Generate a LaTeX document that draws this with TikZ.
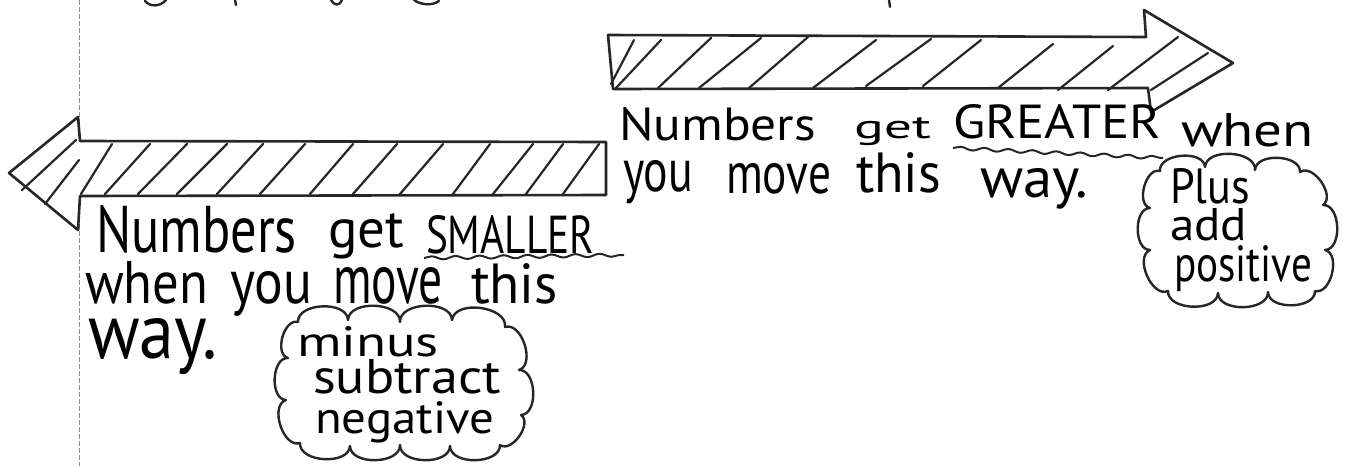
\documentclass[tikz,border=0pt]{standalone}
\usepackage{fontspec}
\setmainfont{PT Sans}
\usetikzlibrary{decorations.pathmorphing}
\tikzset{
 ink/.style={draw=black!85, line width=2.6pt, line join=round, line cap=round},
 hatch/.style={draw=black!85, line width=2.2pt, line cap=round},
 word/.style={anchor=base west, inner sep=0pt, outer sep=0pt, text=black, font=\fontsize{46}{50}\selectfont},
 puff/.style={draw=black!85, line width=2.4pt, line join=round},
 wavy/.style={draw=black!85, line width=2pt, decorate, decoration={snake, amplitude=1.6pt, segment length=24pt}},
 margin/.style={draw=black!45, line width=0.8pt, dash pattern=on 5pt off 2pt},
 frag/.style={draw=black!85, line width=2.4pt, line cap=round}
}
\newcommand{\hw}[3]{\resizebox{#1pt}{#2pt}{#3}}
\begin{document}
\begin{tikzpicture}[x=1pt,y=-1pt]
\useasboundingbox (0,0) rectangle (1351,466);
\fill[white] (0,0) rectangle (1351,466);
\draw[margin] (79,0) -- (79,466);

% fragments of writing cut at the top edge
\draw[frag] (145,1) .. controls (150,7) and (160,7) .. (166,0);
\draw[frag] (235,0) -- (236,5);
\draw[frag] (331,0) .. controls (334,6) and (340,6) .. (342,0);
\draw[frag] (414,0) .. controls (421,5) and (432,6) .. (439,1);
\draw[frag] (889,0) -- (890,7);

% lower-left arrow
\draw[ink, fill=white] (606,142) -- (80,141) -- (78,117) -- (9,173) -- (78,230) -- (80,196) -- (606,195) -- cycle;
\foreach \a/\b in {81/112, 105/150, 138/187, 177/227, 217/263, 260/305, 310/353, 353/397, 400/443, 453/490, 493/533, 526/563, 563/599}
  \draw[hatch] (\a,194) -- (\b,144);
\draw[hatch] (22,190) -- (76,140);
\draw[hatch] (45,204) -- (79,160);

% upper-right arrow
\draw[ink, fill=white] (608,35) -- (1146,37) -- (1144,10) -- (1233,63) -- (1151,112) -- (1148,88) -- (613,89) -- cycle;
\foreach \a/\p/\b/\q in {611/84/634/40, 616/88/661/40, 658/88/711/38, 699/88/761/38, 749/88/808/37, 813/88/876/40, 866/86/931/39, 923/86/981/40, 998/88/1053/44, 1058/90/1113/46, 1108/90/1178/37, 1151/90/1208/53}
  \draw[hatch] (\a,\p) -- (\b,\q);

% clouds (cusps listed clockwise, bumps bulge outwards)
\draw[puff] (298,322) \foreach \x/\y in {348/320, 400/322, 452/320, 505/327, 519/370, 521/415, 500/445, 450/446, 400/445, 350/446, 300/443, 286/400, 288/358, 298/322} { to[bend left=90] (\x,\y) } -- cycle;
\draw[puff] (1160,171) \foreach \x/\y in {1205/167, 1255/170, 1300/172, 1323/205, 1325/250, 1315/291, 1268/292, 1218/293, 1168/291, 1150/250, 1150/208, 1160/171} { to[bend left=90] (\x,\y) } -- cycle;

% upper text
\node[word] (g1) at (619,140) {\hw{197}{33}{Numbers}};
\node[word] (g2) at (854,138) {\hw{77}{21}{get}};
\node[word] (g3) at (953,138) {\hw{208}{34}{GREATER}};
\node[word] (g4) at (1181,146) {\hw{133}{33}{when}};
\node[word] (g5) at (623,191) {\hw{70}{31}{you}};
\node[word] (g6) at (726,193) {\hw{105}{30}{move}};
\node[word] (g7) at (856,192) {\hw{85}{40}{this}};
\node[word] (g8) at (980,197) {\hw{108}{29}{way.}};

% lower text
\node[word] (s1) at (96,252) {\hw{201}{47}{Numbers}};
\node[word] (s2) at (328,247) {\hw{76}{34}{get}};
\node[word] (s3) at (426,253) {\hw{168}{38}{SMALLER}};
\node[word] (s4) at (85,303) {\hw{123}{42}{when}};
\node[word] (s5) at (230,303) {\hw{82}{32}{you}};
\node[word] (s6) at (333,303) {\hw{110}{36}{move}};
\node[word] (s7) at (471,303) {\hw{87}{40}{this}};
\node[word] (s8) at (88,358) {\hw{129}{40}{way.}};

% cloud texts
\node[word] (m1) at (297,356) {\hw{142}{30}{minus}};
\node[word] (m2) at (313,393) {\hw{188}{34}{subtract}};
\node[word] (m3) at (315,433) {\hw{179}{32}{negative}};
\node[word] (p1) at (1170,203) {\hw{80}{35}{Plus}};
\node[word] (p2) at (1170,240) {\hw{77}{32}{add}};
\node[word] (p3) at (1174,281) {\hw{138}{36}{positive}};

% wavy underlines
\coordinate (ug) at (953,148);
\coordinate (ugc) at (1163,158);
\draw[wavy] (ug) -- (ugc);
\coordinate (us1) at (424,258);
\coordinate (us2) at (624,255);
\draw[wavy] (us1) -- (us2);
\end{tikzpicture}
\end{document}
